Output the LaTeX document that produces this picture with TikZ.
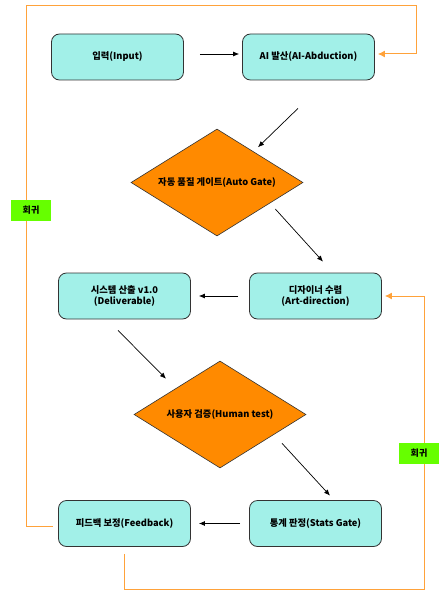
\documentclass[tikz,border=0pt]{standalone}
\usepackage{fontspec}
\setmainfont{Noto Sans CJK KR}
\usetikzlibrary{arrows.meta,calc,shapes.geometric}
\definecolor{boxcyan}{HTML}{A2F0E8}
\definecolor{gateorange}{HTML}{FF8A00}
\definecolor{loopcolor}{HTML}{FFA23A}
\definecolor{taggreen}{HTML}{66FF00}
\tikzset{
  stepbox/.style={draw=black!80,fill=boxcyan,rounded corners=8pt,minimum width=132pt,minimum height=46pt,line width=0.8pt,align=center,font=\bfseries\fontsize{9.3}{11.5}\selectfont},
  gatenode/.style={diamond,draw=black!80,fill=gateorange,aspect=1.6,minimum width=172pt,minimum height=107pt,inner sep=0pt,line width=0.6pt,font=\bfseries\fontsize{9.3}{11.5}\selectfont},
  flow/.style={-{Latex[length=6pt,width=5pt]},line width=0.7pt},
  loopline/.style={-{Latex[length=7pt,width=7pt]},loopcolor,line width=1pt},
  looptag/.style={fill=taggreen,minimum width=40pt,minimum height=21pt,inner sep=0pt,font=\bfseries\fontsize{9}{10}\selectfont}
}
\begin{document}
\begin{tikzpicture}[x=1pt,y=-1pt]
\useasboundingbox (0,0) rectangle (443,591);
\node[stepbox] (input) at (117.5,57) {입력(Input)};
\node[stepbox] (abduct) at (308.5,57) {AI 발산(AI-Abduction)};
\node[gatenode] (autogate) at (217,182.5) {자동 품질 게이트(Auto Gate)};
\node[stepbox] (artdir) at (315.5,296) {디자이너 수렴\\(Art-direction)};
\node[stepbox] (deliver) at (124.5,296) {시스템 산출 v1.0\\(Deliverable)};
\node[gatenode] (humantest) at (220,414.5) {사용자 검증(Human test)};
\node[stepbox] (statsgate) at (315.5,523.5) {통계 판정(Stats Gate)};
\node[stepbox] (feedback) at (124.5,523.5) {피드백 보정(Feedback)};
\coordinate (nwcorner) at (26,6);
\coordinate (necorner) at (416,6);
\coordinate (secorner) at (424,589);
\draw[flow,shorten <=16pt,shorten >=3pt] ([yshift=3pt]input.east) -- ([yshift=3pt]abduct.west);
\draw[flow] ($(abduct.south)+(-10.5,28)$) -- ($(autogate.north)+(41,18.5)$);
\draw[flow] ($(autogate.east)+(-28,26.5)$) -- ($(artdir.north)+(7.5,-11)$);
\draw[flow,shorten <=11pt,shorten >=8pt] (artdir.west) -- (deliver.east);
\draw[flow] ($(deliver.south)+(-6.5,11)$) -- ($(humantest.north)+(-54,18)$);
\draw[flow] ($(humantest.south)+(62,-25)$) -- ($(statsgate.north)+(14.5,-4.5)$);
\draw[flow,shorten <=9pt,shorten >=8pt] (statsgate.west) -- (feedback.east);
\draw[loopline,shorten <=5pt,shorten >=3pt] ([yshift=-2.5pt]feedback.west) -| (nwcorner) -- (necorner) |- ([yshift=3pt]abduct.east);
\draw[loopline,shorten <=7pt,shorten >=3pt] (feedback.south) |- (secorner) |- (artdir.east);
\node[looptag] (tagleft) at (31,210) {회귀};
\node[looptag] (tagright) at (419,453) {회귀};
\end{tikzpicture}
\end{document}
